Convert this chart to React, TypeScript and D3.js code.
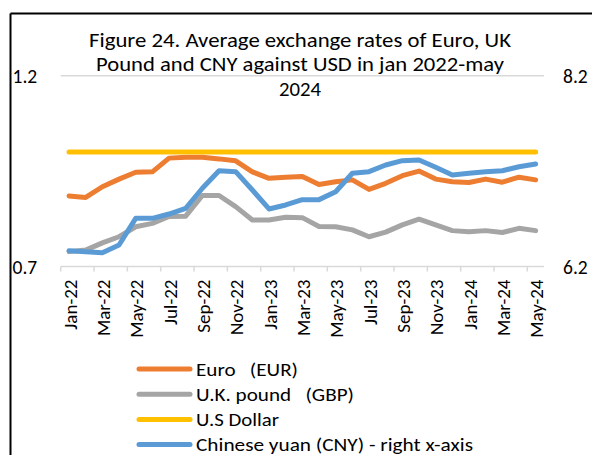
import React from "react";
import * as d3 from "d3";

const months = [
  "Jan-22","Feb-22","Mar-22","Apr-22","May-22","Jun-22","Jul-22","Aug-22","Sep-22","Oct-22","Nov-22","Dec-22",
  "Jan-23","Feb-23","Mar-23","Apr-23","May-23","Jun-23","Jul-23","Aug-23","Sep-23","Oct-23","Nov-23","Dec-23",
  "Jan-24","Feb-24","Mar-24","Apr-24","May-24",
];
const eur = [0.885,0.881,0.909,0.929,0.947,0.948,0.984,0.986,0.986,0.982,0.977,0.948,0.931,0.934,0.936,0.915,0.922,0.927,0.902,0.918,0.938,0.950,0.929,0.922,0.920,0.929,0.921,0.934,0.927];
const gbp = [0.739,0.743,0.762,0.778,0.804,0.813,0.831,0.832,0.886,0.886,0.857,0.822,0.822,0.829,0.828,0.805,0.804,0.796,0.778,0.790,0.809,0.824,0.809,0.794,0.791,0.794,0.789,0.800,0.794];
const usd = months.map(() => 1.0);
const cny = [6.366,6.355,6.345,6.425,6.705,6.705,6.750,6.810,7.020,7.204,7.194,7.002,6.803,6.845,6.901,6.901,6.984,7.177,7.194,7.264,7.309,7.316,7.240,7.159,7.177,7.194,7.204,7.246,7.274];

const leftTicks = [0.7, 1.2];
const rightTicks = [6.2, 8.2];
const titleLines = [
  "Figure 24. Average exchange rates of Euro, UK",
  "Pound and CNY against USD in jan 2022-may",
  "2024",
];
const legendItems = [
  { label: "Euro   (EUR)", color: "#ED7D31" },
  { label: "U.K. pound   (GBP)", color: "#A5A5A5" },
  { label: "U.S Dollar", color: "#FFC000" },
  { label: "Chinese yuan (CNY) - right x-axis", color: "#5B9BD5" },
];
const titleWidths = [422, 408, 42];
const legendWidths = [102, 158, 83, 277];

const FONT = "Carlito, Calibri, 'Open Sans', sans-serif";

export default function App() {
  const W = 592, H = 455;
  const x = d3.scaleBand<string>().domain(months).range([60.7, 544]).padding(0);
  const cx = (m: string) => (x(m) as number) + x.bandwidth() / 2;
  const yL = d3.scaleLinear().domain([0.7, 1.2]).range([266.5, 75.7]);
  const yR = d3.scaleLinear().domain([6.2, 8.2]).range([266.5, 75.7]);

  const lineL = d3.line<number>().x((_, i) => cx(months[i])).y((d) => yL(d));
  const lineR = d3.line<number>().x((_, i) => cx(months[i])).y((d) => yR(d));

  const tickIdx = months.map((_, i) => i).filter((i) => i % 2 === 0);

  return (
    <svg width={W} height={H} style={{ position: "absolute", left: 0, top: 0 }} fontFamily={FONT}>
      <rect x={0} y={0} width={W} height={H} fill="#fff" />
      <line x1={10.5} y1={13.5} x2={W} y2={13.5} stroke="#000" strokeWidth={2} />
      <line x1={10.5} y1={13.5} x2={10.5} y2={H} stroke="#000" strokeWidth={2} />

      <line x1={60.7} x2={544} y1={yL(1.2)} y2={yL(1.2)} stroke="#D9D9D9" strokeWidth={1.5} />
      <line x1={60.7} x2={544} y1={yL(0.7)} y2={yL(0.7)} stroke="#D9D9D9" strokeWidth={1.5} />
      {tickIdx.map((i) => (
        <line key={i} x1={x(months[i]) as number} x2={x(months[i]) as number} y1={yL(0.7)} y2={yL(0.7) + 5} stroke="#D9D9D9" strokeWidth={1.5} />
      ))}
      {tickIdx.map((i) => (
        <text key={"t" + i} transform={`translate(${cx(months[i]) + 1},279.5) rotate(-90)`} textAnchor="end" dominantBaseline="central" fontSize={19} fill="#000">
          {months[i]}
        </text>
      ))}

      {leftTicks.map((t) => (
        <text key={t} x={12.5} y={yL(t)} dominantBaseline="central" fontSize={19.5} fill="#000">
          {t.toFixed(1)}
        </text>
      ))}
      {rightTicks.map((t) => (
        <text key={t} x={563} y={yR(t)} dominantBaseline="central" fontSize={19.5} fill="#000">
          {t.toFixed(1)}
        </text>
      ))}

      <path d={lineL(eur) || ""} fill="none" stroke="#ED7D31" strokeWidth={5} strokeLinecap="round" strokeLinejoin="round" />
      <path d={lineL(gbp) || ""} fill="none" stroke="#A5A5A5" strokeWidth={5} strokeLinecap="round" strokeLinejoin="round" />
      <path d={lineL(usd) || ""} fill="none" stroke="#FFC000" strokeWidth={5} strokeLinecap="round" strokeLinejoin="round" />
      <path d={lineR(cny) || ""} fill="none" stroke="#5B9BD5" strokeWidth={5} strokeLinecap="round" strokeLinejoin="round" />

      {titleLines.map((t, i) => (
        <text key={i} x={300} y={46.5 + i * 24.5} textAnchor="middle" fontSize={19.5} fill="#000" textLength={titleWidths[i]} lengthAdjust="spacingAndGlyphs">
          {t}
        </text>
      ))}

      {legendItems.map((l, i) => {
        const yy = 369 + i * 25.2;
        return (
          <g key={i}>
            <line x1={139} x2={190} y1={yy} y2={yy} stroke={l.color} strokeWidth={5} strokeLinecap="round" />
            <text x={196} y={yy} dominantBaseline="central" fontSize={19} fill="#000" style={{ whiteSpace: "pre" }} textLength={legendWidths[i]} lengthAdjust="spacingAndGlyphs">
              {l.label}
            </text>
          </g>
        );
      })}
    </svg>
  );
}
